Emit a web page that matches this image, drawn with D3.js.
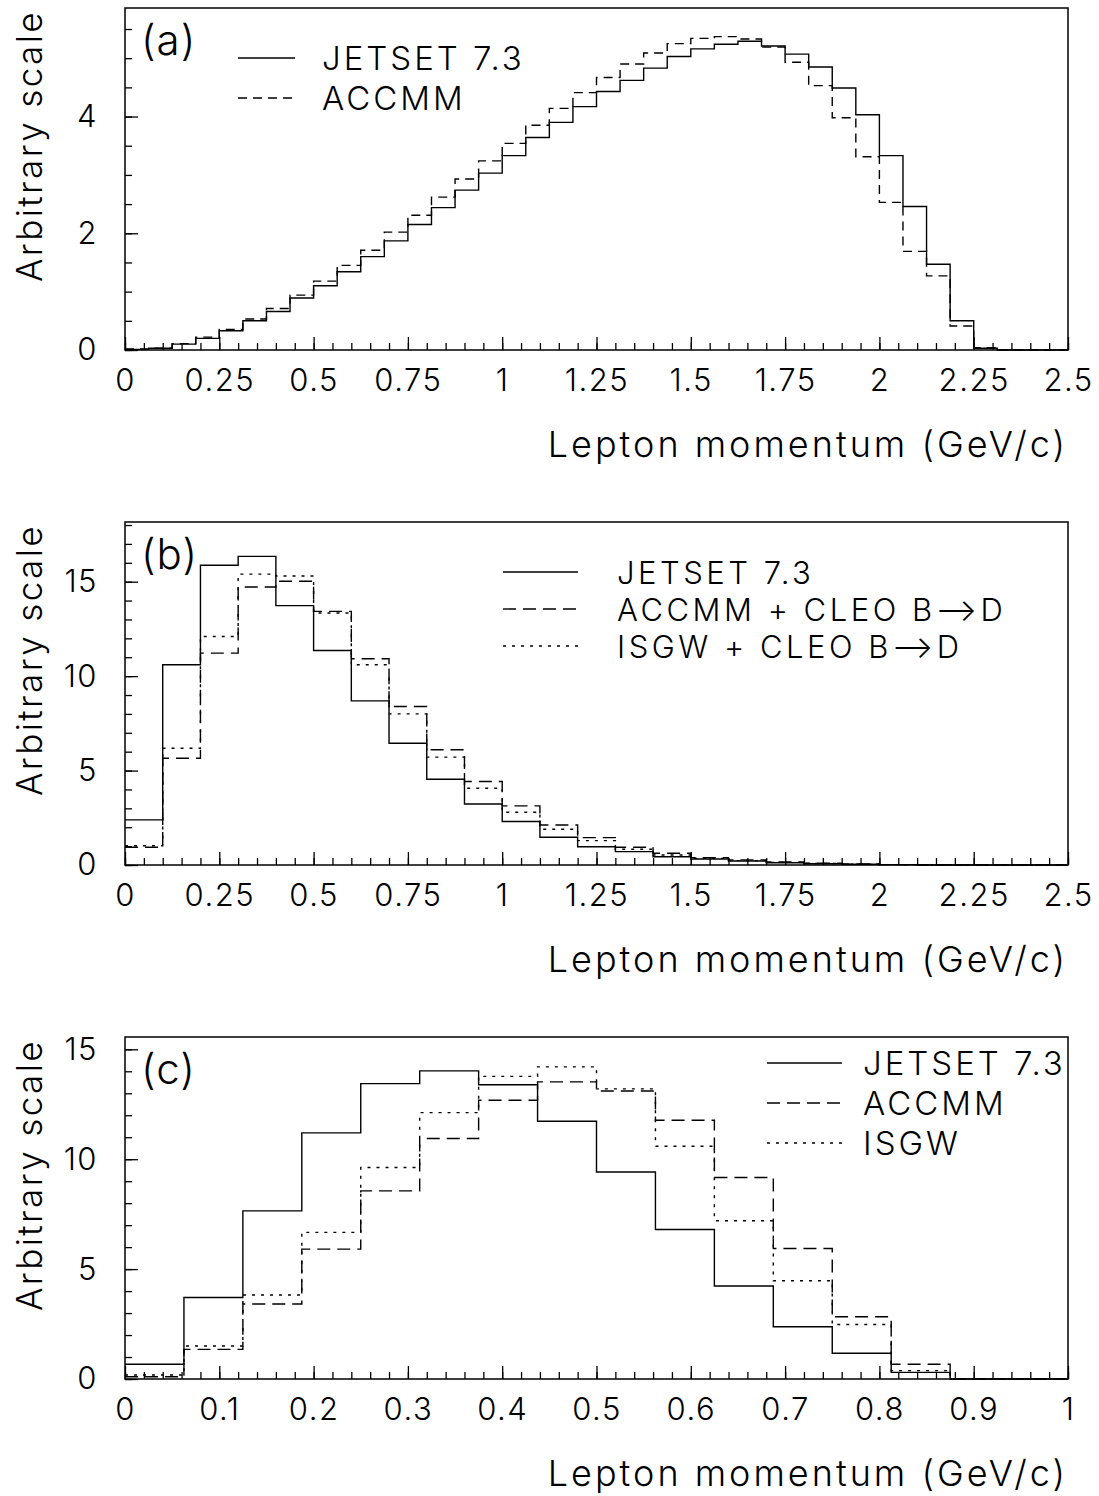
<!DOCTYPE html>
<html>
<head>
<meta charset="utf-8">
<script src="https://cdn.jsdelivr.net/npm/d3@7"></script>
<style>
    body { margin: 0; background: #fff; }
    text { font-family: Inter, Roboto, "Open Sans", sans-serif; font-weight: 300; fill: #000; }
</style>
</head>
<body>
<svg id="chart" width="1099" height="1496"></svg>
<script>

// (a) 40 bins of 0.0625 GeV/c, 0 - 2.5
var jetsetA = [0.01, 0.03, 0.10, 0.20, 0.33, 0.50, 0.66, 0.89, 1.10, 1.34,
               1.60, 1.87, 2.15, 2.44, 2.74, 3.03, 3.33, 3.64, 3.90, 4.17,
               4.43, 4.62, 4.83, 5.03, 5.16, 5.24, 5.29, 5.21, 5.07, 4.85,
               4.49, 4.03, 3.33, 2.46, 1.47, 0.50, 0.03, 0, 0, 0];
var accmmA  = [0.02, 0.03, 0.11, 0.22, 0.35, 0.53, 0.71, 0.94, 1.18, 1.45,
               1.71, 2.02, 2.31, 2.62, 2.93, 3.24, 3.54, 3.85, 4.14, 4.41,
               4.67, 4.90, 5.09, 5.25, 5.34, 5.37, 5.33, 5.19, 4.93, 4.53,
               3.98, 3.31, 2.53, 1.69, 1.27, 0.41, 0.04, 0, 0, 0];

// (b) 25 bins of 0.1 GeV/c, 0 - 2.5
var jetsetB = [2.39, 10.6, 15.87, 16.34, 13.73, 11.36, 8.69, 6.45, 4.54, 3.23,
               2.30, 1.47, 0.97, 0.71, 0.44, 0.32, 0.21, 0.12, 0.07, 0.04,
               0.02, 0, 0, 0, 0];
var accmmB  = [0.94, 5.65, 11.22, 14.72, 15.02, 13.43, 10.92, 8.39, 6.10, 4.42,
               3.13, 2.12, 1.45, 0.94, 0.62, 0.39, 0.27, 0.16, 0.09, 0.05,
               0.02, 0.01, 0, 0, 0];
var isgwB   = [1.02, 6.18, 12.10, 15.40, 15.30, 13.34, 10.60, 8.00, 5.71, 4.06,
               2.79, 1.89, 1.29, 0.83, 0.53, 0.35, 0.23, 0.14, 0.08, 0.04,
               0.02, 0.01, 0, 0, 0];

// (c) 16 bins of 0.0625 GeV/c, 0 - 1
var jetsetC = [0.67, 3.71, 7.65, 11.20, 13.44, 14.02, 13.39, 11.73,
               9.42, 6.80, 4.23, 2.38, 1.17, 0.30, 0, 0];
var accmmC  = [0.10, 1.35, 3.41, 5.91, 8.56, 10.94, 12.68, 13.52,
               13.10, 11.77, 9.17, 5.94, 2.83, 0.67, 0, 0];
var isgwC   = [0.18, 1.50, 3.82, 6.67, 9.62, 12.12, 13.77, 14.20,
               13.20, 10.59, 7.20, 4.47, 2.48, 0.38, 0, 0];

var legendA = ["JETSET 7.3", "ACCMM"];
var legendB = ["JETSET 7.3", "ACCMM + CLEO B\u27F6D", "ISGW + CLEO B\u27F6D"];
var legendC = ["JETSET 7.3", "ACCMM", "ISGW"];

var yTitle = "Arbitrary scale";
var xTitle = "Lepton momentum (GeV/c)";

var styles = {
    solid:   null,
    dashed:  "13,7",
    dashedA: "9,6",
    dotted:  "3,6"
};

var panels = [
    { tag: "(a)", top: 8, bottom: 350, xMax: 2.5, yMax: 5.86, bin: 0.0625,
      xMajor: 0.25, xMinor: 0.05, yMajor: 2, yMinor: 0.5,
      series: [[jetsetA, "solid"], [accmmA, "dashedA"]],
      legend: legendA, legX: 238, legLen: 57, legTextX: 322, legY: 70, legStep: 40, legSize: 33, legSpace: 3 },
    { tag: "(b)", top: 522, bottom: 865, xMax: 2.5, yMax: 18.16, bin: 0.1,
      xMajor: 0.25, xMinor: 0.05, yMajor: 5, yMinor: 1,
      series: [[jetsetB, "solid"], [accmmB, "dashed"], [isgwB, "dotted"]],
      legend: legendB, legX: 503, legLen: 75, legTextX: 617, legY: 584, legStep: 37, legSize: 31, legSpace: 3.5 },
    { tag: "(c)", top: 1037, bottom: 1379, xMax: 1, yMax: 15.56, bin: 0.0625,
      xMajor: 0.1, xMinor: 0.02, yMajor: 5, yMinor: 1,
      series: [[jetsetC, "solid"], [accmmC, "dashed"], [isgwC, "dotted"]],
      legend: legendC, legX: 767, legLen: 75, legTextX: 863, legY: 1075, legStep: 40, legSize: 33, legSpace: 3 }
];

var left = 125, right = 1068;
var svg = d3.select("#chart");
var fmt = d3.format("~g");

panels.forEach(function (p) {
    var x = d3.scaleLinear().domain([0, p.xMax]).range([left, right]);
    var y = d3.scaleLinear().domain([0, p.yMax]).range([p.bottom, p.top]);
    var g = svg.append("g");

    var xMajorTicks = d3.range(0, p.xMax + 1e-9, p.xMajor);
    var xMinorTicks = d3.range(0, p.xMax + 1e-9, p.xMinor);
    var yMajorTicks = d3.range(0, p.yMax, p.yMajor);
    var yMinorTicks = d3.range(0, p.yMax, p.yMinor);

    // minor ticks
    g.append("g")
        .attr("class", "axis axis-bottom-minor")
        .attr("transform", `translate(0, ${p.bottom})`)
        .call(d3.axisBottom(x).tickValues(xMinorTicks).tickSize(-7).tickFormat(""));
    g.append("g")
        .attr("class", "axis axis-left-minor")
        .attr("transform", `translate(${left}, 0)`)
        .call(d3.axisLeft(y).tickValues(yMinorTicks).tickSize(-7).tickFormat(""));

    // major ticks with labels
    g.append("g")
        .attr("class", "axis axis-bottom")
        .attr("transform", `translate(0, ${p.bottom})`)
        .call(d3.axisBottom(x).tickValues(xMajorTicks).tickSize(-13).tickPadding(19).tickFormat(fmt));
    g.append("g")
        .attr("class", "axis axis-left")
        .attr("transform", `translate(${left}, 0)`)
        .call(d3.axisLeft(y).tickValues(yMajorTicks).tickSize(-13).tickPadding(27).tickFormat(fmt));

    g.selectAll(".axis .domain").remove();
    g.selectAll(".axis line").attr("stroke", "#000").attr("stroke-width", 1.3);
    g.selectAll(".axis text")
        .attr("font-size", 31)
        .attr("letter-spacing", 1.5)
        .attr("font-family", null);

    // frame
    g.append("rect")
        .attr("x", left).attr("y", p.top)
        .attr("width", right - left).attr("height", p.bottom - p.top)
        .attr("fill", "none").attr("stroke", "#000").attr("stroke-width", 1.5);

    // histograms
    var line = d3.line()
        .x(function (d) { return x(d[0]); })
        .y(function (d) { return y(d[1]); })
        .curve(d3.curveStepAfter);

    p.series.forEach(function (s) {
        var vals = s[0];
        var pts = vals.map(function (v, i) { return [i * p.bin, v]; });
        pts.push([vals.length * p.bin, vals[vals.length - 1]]);
        g.append("path")
            .datum(pts)
            .attr("d", line)
            .attr("fill", "none")
            .attr("stroke", "#000")
            .attr("stroke-width", 1.4)
            .attr("stroke-dasharray", styles[s[1]]);
    });

    // legend
    p.legend.forEach(function (name, i) {
        var ly = p.legY + i * p.legStep;
        g.append("line")
            .attr("x1", p.legX).attr("x2", p.legX + p.legLen)
            .attr("y1", ly - 12).attr("y2", ly - 12)
            .attr("stroke", "#000").attr("stroke-width", 1.4)
            .attr("stroke-dasharray", styles[p.series[i][1]]);
        g.append("text")
            .attr("x", p.legTextX).attr("y", ly)
            .attr("font-size", p.legSize)
            .attr("letter-spacing", p.legSpace)
            .text(name);
    });

    // panel tag
    g.append("text")
        .attr("x", 141).attr("y", p.top + 47)
        .attr("font-size", 42)
        .attr("letter-spacing", 1)
        .text(p.tag);

    // axis titles
    g.append("text")
        .attr("transform", `translate(42, ${p.top + 2}) rotate(-90)`)
        .attr("text-anchor", "end")
        .attr("font-size", 35)
        .attr("letter-spacing", 2.4)
        .text(yTitle);
    g.append("text")
        .attr("x", right).attr("y", p.bottom + 107)
        .attr("text-anchor", "end")
        .attr("font-size", 36)
        .attr("letter-spacing", 3)
        .text(xTitle);
});
</script>
</body>
</html>
